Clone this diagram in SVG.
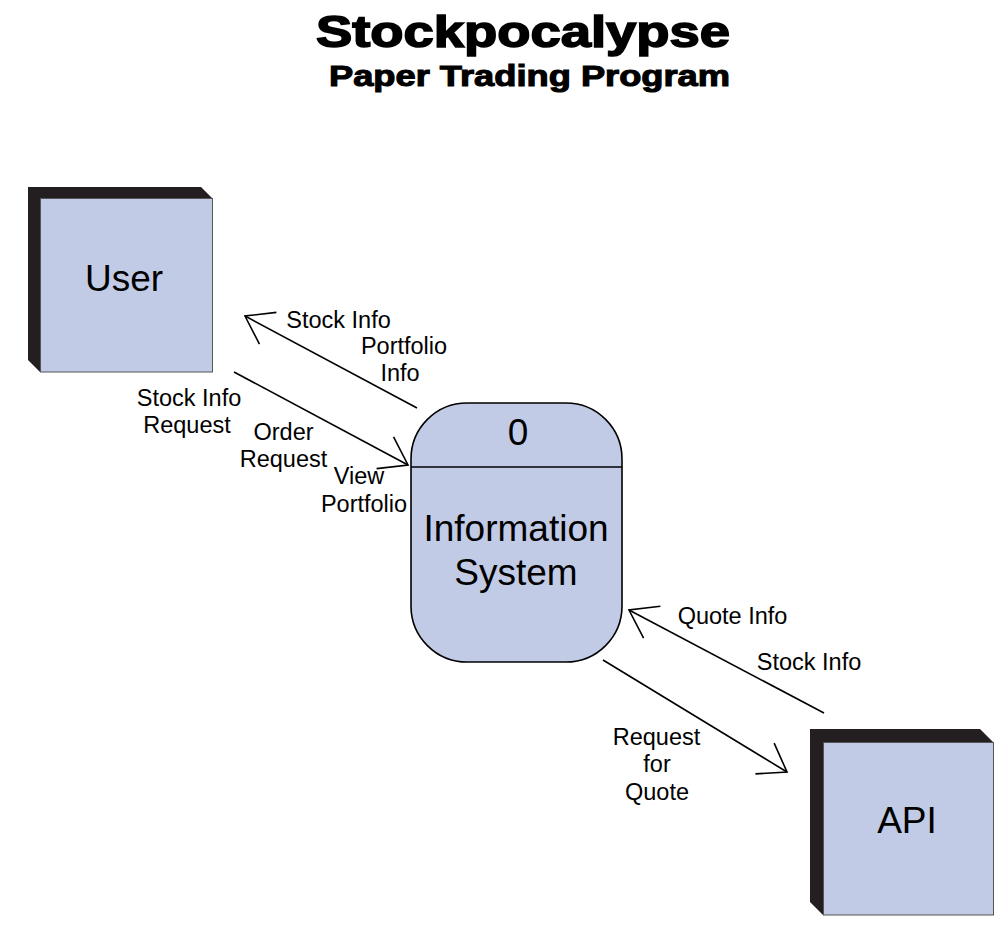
<svg xmlns="http://www.w3.org/2000/svg" width="1008" height="927" viewBox="0 0 1008 927">
<defs>
<style>
.title{font-family:"Liberation Sans",Arial,sans-serif;font-weight:bold;fill:#000;stroke:#000;}
.lbl{font-family:"Liberation Sans",Arial,sans-serif;font-size:23.5px;fill:#000;text-anchor:middle;}
.big{font-family:"Liberation Sans",Arial,sans-serif;font-size:37px;fill:#000;text-anchor:middle;}
.shadow{fill:#231f20;}
.face{fill:#c2cbe6;stroke:#555;stroke-width:1;}
.flow{fill:none;stroke:#000;stroke-width:1.6;marker-end:url(#open);}
</style>
<marker id="open" markerUnits="userSpaceOnUse" markerWidth="40" markerHeight="40" viewBox="-32 -20 36 40" refX="0" refY="0" orient="auto">
<path d="M -26,-18 L 0,0 L -26,18" fill="none" stroke="#000" stroke-width="1.6"/>
</marker>
</defs>
<rect width="1008" height="927" fill="#fff"/>
<g id="title">
<text class="title" x="316" y="47" font-size="44" stroke-width="1.6" textLength="414" lengthAdjust="spacingAndGlyphs">Stockpocalypse</text>
<text class="title" x="329" y="86" font-size="30" stroke-width="1.1" textLength="401" lengthAdjust="spacingAndGlyphs">Paper Trading Program</text>
</g>
<g id="user">
<polygon class="shadow" points="28,187 201,187 212,198 212,372 40,372 28,360"/>
<rect class="face" x="40.5" y="198.5" width="172" height="173.5"/>
<text class="big" x="124" y="291">User</text>
</g>
<g id="api">
<polygon class="shadow" points="810,729 980,729 993,742 993,915 823,915 810,902"/>
<rect class="face" x="823.5" y="742.5" width="170" height="172.5"/>
<text class="big" x="907" y="833">API</text>
</g>
<g id="process">
<rect x="411" y="403" width="211" height="259" rx="56" ry="56" fill="#c2cbe6" stroke="#000" stroke-width="1.6"/>
<line x1="411" y1="467" x2="622" y2="467" stroke="#000" stroke-width="1.6"/>
<text class="big" x="518" y="445" font-size="32">0</text>
<text class="big" x="516" y="541">Information</text>
<text class="big" x="516" y="585">System</text>
</g>
<g id="connectors">
<line class="flow" x1="417" y1="408" x2="245" y2="316"/>
<line class="flow" x1="234" y1="372" x2="408" y2="465"/>
<line class="flow" x1="824" y1="713" x2="629" y2="610"/>
<line class="flow" x1="603" y1="660" x2="787" y2="772"/>
</g>
<g id="labels">
<text class="lbl" x="338.5" y="328">Stock Info</text>
<text class="lbl" x="404" y="354">Portfolio</text>
<text class="lbl" x="400" y="381">Info</text>
<text class="lbl" x="189" y="406">Stock Info</text>
<text class="lbl" x="187" y="433">Request</text>
<text class="lbl" x="283.5" y="440">Order</text>
<text class="lbl" x="283.5" y="467">Request</text>
<text class="lbl" x="359" y="484">View</text>
<text class="lbl" x="364" y="512">Portfolio</text>
<text class="lbl" x="732.5" y="624">Quote Info</text>
<text class="lbl" x="809" y="670">Stock Info</text>
<text class="lbl" x="656.5" y="745">Request</text>
<text class="lbl" x="657" y="772">for</text>
<text class="lbl" x="657" y="800">Quote</text>
</g>
</svg>
